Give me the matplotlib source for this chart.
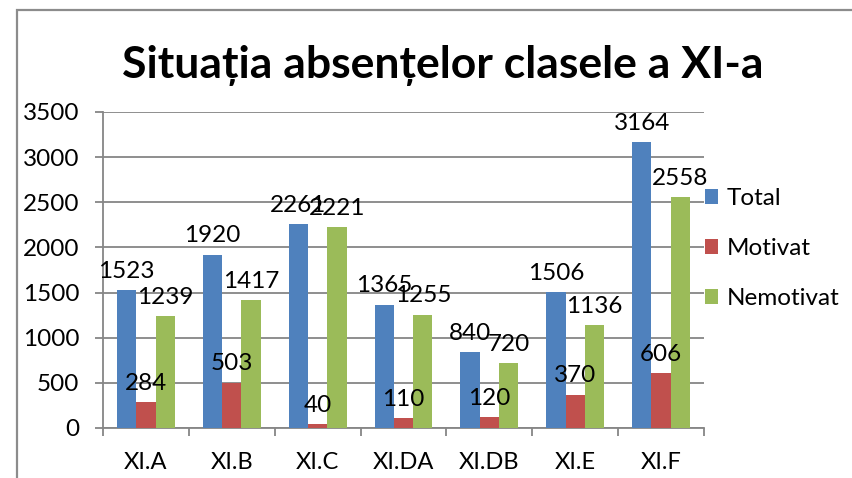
import numpy as np
import matplotlib.pyplot as plt
from matplotlib.patches import Rectangle
from matplotlib.ticker import FixedLocator

# data
categories = ['XI.A', 'XI.B', 'XI.C', 'XI.DA', 'XI.DB', 'XI.E', 'XI.F']
total = [1523, 1920, 2261, 1365, 840, 1506, 3164]
motivat = [284, 503, 40, 110, 120, 370, 606]
nemotivat = [1239, 1417, 2221, 1255, 720, 1136, 2558]
series_names = ['Total', 'Motivat', 'Nemotivat']
colors = ['#4F81BD', '#C0504D', '#9BBB59']
yticks = [0, 500, 1000, 1500, 2000, 2500, 3000, 3500]
title = 'Situația absențelor clasele a XI-a'

plt.rcParams['font.family'] = ['Lato', 'DejaVu Sans']

fig = plt.figure(figsize=(8.52, 4.78), dpi=100)
W, H = 852, 478
fs = 17.5

# outer chart frame (extends past the image on right and bottom)
fig.patches.append(Rectangle((17 / W, -0.1), 1.2, 0.1 + (H - 10) / H,
                             transform=fig.transFigure, fill=False,
                             edgecolor='#8c8c8c', linewidth=1.6))

ax = fig.add_axes([103 / W, 1 - 428 / H, (704 - 103) / W, (428 - 112) / H])

x = np.arange(len(categories))
bw = 0.225
grid_color = '#868686'

for i, (vals, name, col) in enumerate(zip([total, motivat, nemotivat], series_names, colors)):
    pos = x + (i - 1) * bw
    ax.bar(pos, vals, width=bw, color=col, label=name, zorder=3)
    for xp, v in zip(pos, vals):
        ax.annotate(str(v), (xp, v), xytext=(0, 6), textcoords='offset points',
                    ha='center', va='bottom', fontsize=fs, color='black', zorder=5)

ax.set_xlim(-0.5, len(categories) - 0.5)
ax.set_ylim(0, 3500)
ax.set_yticks(yticks)
ax.yaxis.grid(True, color=grid_color, linewidth=1.3, zorder=0)
ax.set_axisbelow(True)

ax.set_xticks(x)
ax.set_xticklabels(categories)
ax.xaxis.set_minor_locator(FixedLocator(np.arange(-0.5, len(categories), 1.0)))
ax.tick_params(axis='x', which='major', length=0, pad=17, labelsize=fs - 0.5)
ax.tick_params(axis='x', which='minor', length=6, width=1.3, color=grid_color)
ax.tick_params(axis='y', length=6, width=1.3, color=grid_color, pad=11, labelsize=fs)

for s in ['top', 'right']:
    ax.spines[s].set_visible(False)
for s in ['left', 'bottom']:
    ax.spines[s].set_color(grid_color)
    ax.spines[s].set_linewidth(1.3)

fig.text(443 / W, 1 - 66 / H, title, ha='center', va='center',
         fontsize=32, fontweight='bold')

fig.legend(loc='upper left', bbox_to_anchor=(705 / W, 1 - 188 / H),
           frameon=False, fontsize=fs, handlelength=0.55, handleheight=0.55,
           handletextpad=0.35, labelspacing=1.2, borderaxespad=0, borderpad=0)

fig.savefig('out.png', dpi=100)
